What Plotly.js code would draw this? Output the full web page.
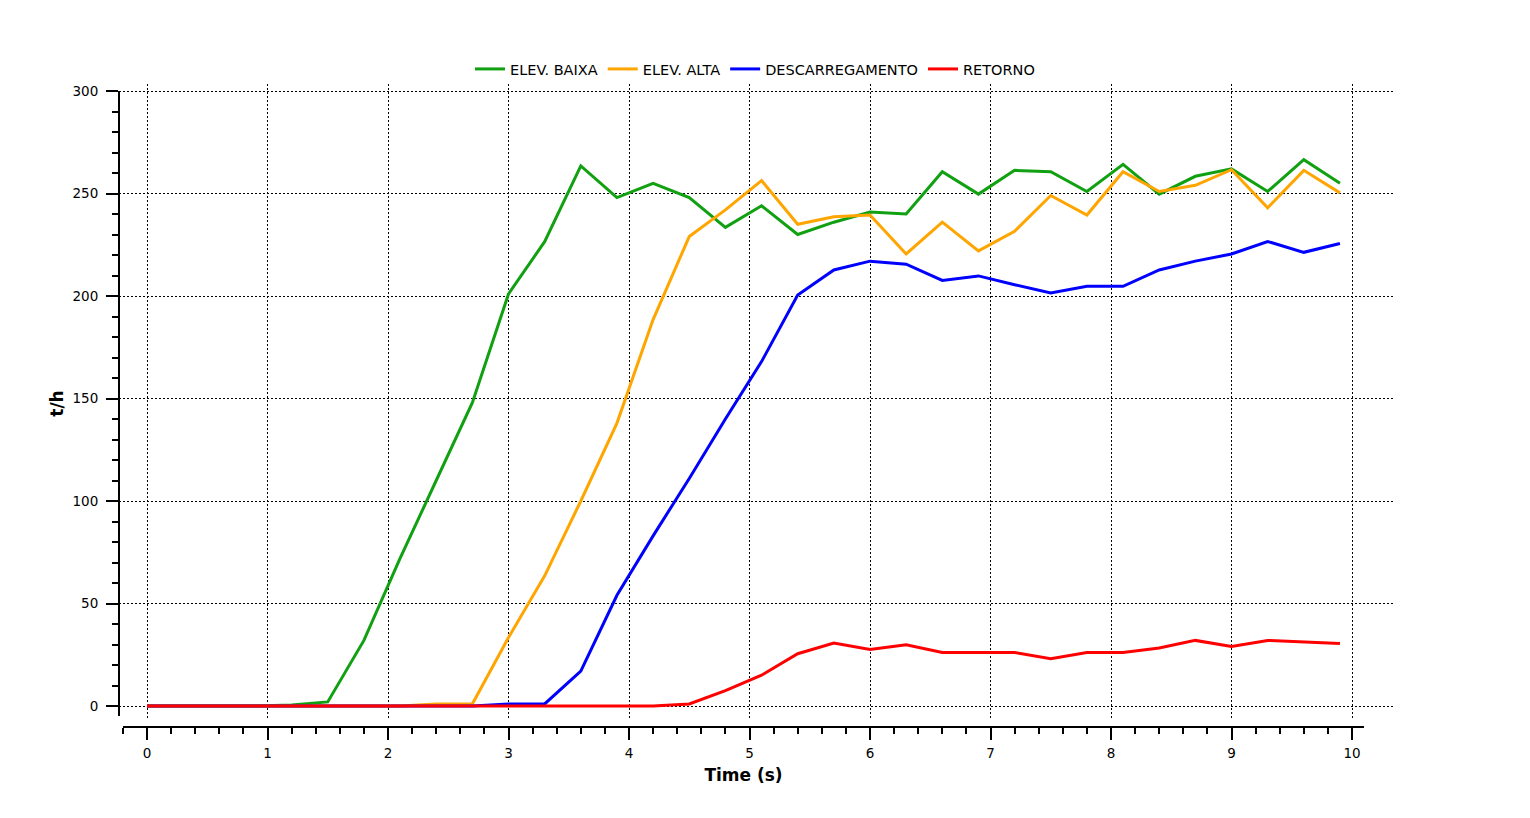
<!DOCTYPE html>
<html>
<head>
<meta charset="utf-8">
<script src="https://cdn.plot.ly/plotly-3.0.1.min.js"></script>
<style>
  html, body { margin: 0; padding: 0; background: #fff; }
  #chart { width: 1530px; height: 818px; }
</style>
</head>
<body>
<div id="chart"></div>
<script>
// ---- data ----
const timeS = [0, 0.3, 0.6, 0.9, 1.2, 1.5, 1.8, 2.1, 2.4, 2.7, 3.0, 3.3, 3.6, 3.9, 4.2, 4.5, 4.8,
               5.1, 5.4, 5.7, 6.0, 6.3, 6.6, 6.9, 7.2, 7.5, 7.8, 8.1, 8.4, 8.7, 9.0, 9.3, 9.6, 9.9];

const elevBaixa = [0, 0, 0, 0, 0.5, 2, 32, 72, 110, 148, 201, 226.5, 263.5, 248, 255, 248, 233.5,
                   244, 230, 236, 241, 240, 260.6, 249.7, 261.3, 260.6, 251, 264.2, 249.7, 258.4, 262, 251, 266.5, 255];

const elevAlta = [0, 0, 0, 0, 0, 0, 0, 0, 1, 1, 33.4, 63.5, 100, 138, 188.5, 229, 242,
                  256.3, 235, 238.7, 239.5, 220.5, 236, 222, 231.6, 249, 239.5, 260.6, 251, 254, 261.6, 243, 261.3, 250.3];

const descarregamento = [0, 0, 0, 0, 0, 0, 0, 0, 0, 0, 1, 1, 17, 54, 83, 111, 140,
                         168, 200.5, 212.7, 217, 215.5, 207.6, 209.8, 205.5, 201.5, 204.7, 204.7, 212.7, 217, 220.5, 226.6, 221.3, 225.6];

const retorno = [0, 0, 0, 0, 0, 0, 0, 0, 0, 0, 0, 0, 0, 0, 0, 1, 7.5,
                 15, 25.5, 30.7, 27.6, 29.9, 26.1, 26.1, 26.1, 23, 26.1, 26.1, 28.3, 32, 29, 32, 31.4, 30.5];

const seriesNames = ['ELEV. BAIXA', 'ELEV. ALTA', 'DESCARREGAMENTO', 'RETORNO'];
const seriesColors = ['#11a011', '#ffa500', '#0000ff', '#ff0000'];
const seriesValues = [elevBaixa, elevAlta, descarregamento, retorno];

const xTitle = 'Time (s)';
const yTitle = 't/h';

// ---- geometry helpers (pixels -> paper fractions) ----
const W = 1530, H = 818;
const px = v => v / W;
const py = v => 1 - v / H;

const FONT = 'DejaVu Sans, Liberation Sans, sans-serif';

const traces = seriesValues.map((vals, i) => ({
  type: 'scatter',
  mode: 'lines',
  name: seriesNames[i],
  x: timeS,
  y: vals,
  xaxis: 'x',
  yaxis: 'y',
  line: { color: seriesColors[i], width: 3 },
  hoverinfo: 'skip'
}));

// empty helper trace so the labelled (offset) axes are drawn
traces.push({ type: 'scatter', mode: 'lines', x: [], y: [], xaxis: 'x2', yaxis: 'y2',
              showlegend: false, hoverinfo: 'skip' });

const gridDash = '1.5px,2.5px';

const layout = {
  width: W, height: H,
  margin: { l: 0, r: 0, t: 0, b: 0, pad: 0 },
  paper_bgcolor: '#ffffff',
  plot_bgcolor: 'rgba(0,0,0,0)',
  font: { family: FONT, color: '#000', size: 14 },
  showlegend: true,
  hovermode: false,
  legend: {
    orientation: 'h',
    x: px(755), xanchor: 'center',
    y: py(69), yanchor: 'middle',
    font: { family: FONT, size: 14.5, color: '#000' },
    bgcolor: 'rgba(0,0,0,0)',
    itemwidth: 30,
    tracegroupgap: 0
  },
  // grid layer
  xaxis: {
    domain: [px(119), px(1393)],
    range: [(119 - 147) / 120.5, (1393 - 147) / 120.5],
    anchor: 'y',
    showgrid: true, gridcolor: '#000', gridwidth: 1, griddash: gridDash,
    tick0: 0, dtick: 1,
    showticklabels: false, ticks: '', zeroline: false, showline: false,
    fixedrange: true
  },
  yaxis: {
    domain: [py(720), py(84)],
    range: [(706 - 720) / 2.05, (706 - 84) / 2.05],
    anchor: 'x',
    showgrid: true, gridcolor: '#000', gridwidth: 1, griddash: gridDash,
    tick0: 0, dtick: 50,
    showticklabels: false, ticks: '', zeroline: false, showline: false,
    fixedrange: true
  },
  // labelled x axis (offset below the plot)
  xaxis2: {
    domain: [px(123), px(1364)],
    range: [(123 - 147) / 120.5, (1364 - 147) / 120.5],
    anchor: 'free',
    position: py(727),
    side: 'bottom',
    showgrid: false, zeroline: false,
    showline: true, linecolor: '#000', linewidth: 2,
    ticks: 'outside', ticklen: 12, tickwidth: 2, tickcolor: '#000',
    tick0: 0, dtick: 1,
    minor: { tick0: 0, dtick: 0.2, ticks: 'outside', ticklen: 6, tickwidth: 2, tickcolor: '#000', showgrid: false },
    tickfont: { family: FONT, size: 13.5, color: '#000' },
    ticklabelstandoff: 2,
    title: { text: xTitle, font: { family: FONT, size: 17, color: '#000', weight: 'bold' }, standoff: 8 },
    fixedrange: true
  },
  // labelled y axis
  yaxis2: {
    domain: [py(716), py(91)],
    range: [(706 - 716) / 2.05, 300],
    anchor: 'free',
    position: px(119),
    side: 'left',
    showgrid: false, zeroline: false,
    showline: true, linecolor: '#000', linewidth: 2,
    ticks: 'outside', ticklen: 12, tickwidth: 2, tickcolor: '#000',
    tick0: 0, dtick: 50,
    minor: { tick0: 0, dtick: 10, ticks: 'outside', ticklen: 6, tickwidth: 2, tickcolor: '#000', showgrid: false },
    tickfont: { family: FONT, size: 13.5, color: '#000' },
    ticklabelstandoff: 5,
    title: { text: yTitle, font: { family: FONT, size: 17, color: '#000', weight: 'bold' }, standoff: 4 },
    fixedrange: true
  }
};

Plotly.newPlot('chart', traces, layout, { displayModeBar: false, staticPlot: true, responsive: false });
</script>
</body>
</html>
